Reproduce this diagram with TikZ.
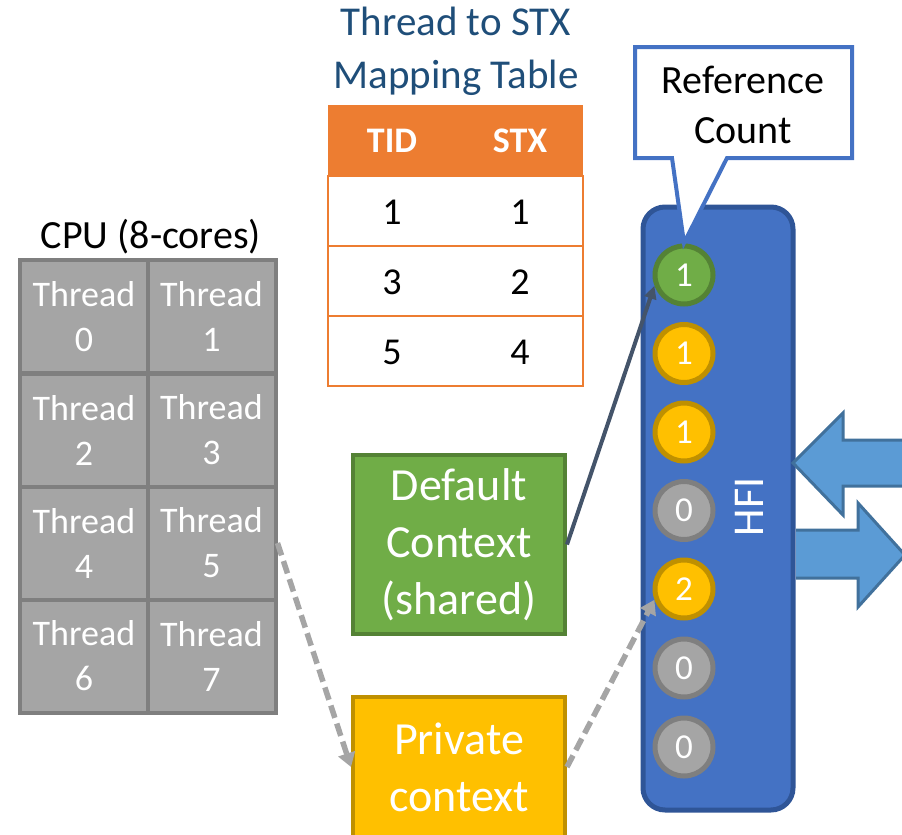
\documentclass[tikz,border=0pt]{standalone}
\usepackage{fontspec}
\setmainfont{Carlito}
\usetikzlibrary{arrows.meta}
\definecolor{cellfill}{HTML}{A5A5A5}
\definecolor{celledge}{HTML}{7F7F7F}
\definecolor{tblorange}{HTML}{ED7D31}
\definecolor{titleblue}{HTML}{1F4E79}
\definecolor{hfifill}{HTML}{4472C4}
\definecolor{hfiedge}{HTML}{2F5597}
\definecolor{grnfill}{HTML}{70AD47}
\definecolor{grnedge}{HTML}{548235}
\definecolor{ylwfill}{HTML}{FFC000}
\definecolor{ylwedge}{HTML}{BF9000}
\definecolor{arrfill}{HTML}{5B9BD5}
\definecolor{arredge}{HTML}{41719C}
\definecolor{slate}{HTML}{44546A}
\tikzset{
  cell/.style={draw=celledge, fill=cellfill, line width=4pt, minimum width=128pt,
    minimum height=113pt, text=white, align=center, inner sep=0pt,
    font=\fontsize{36}{45}\selectfont},
  ctxbox/.style={line width=4pt, minimum width=212pt, text=white, align=center,
    inner sep=0pt, font=\fontsize{46}{57}\selectfont},
  cnt/.style={circle, line width=5pt, minimum size=58pt, inner sep=0pt, text=white,
    font=\fontsize{35}{40}\selectfont},
  cntY/.style={cnt, fill=ylwfill, draw=ylwedge},
  cntG/.style={cnt, fill=cellfill, draw=celledge},
  cntV/.style={cnt, fill=grnfill, draw=grnedge},
  tbltext/.style={font=\fontsize{38}{46}\selectfont},
  dasharrow/.style={draw=cellfill, line width=5.5pt, dash pattern=on 13pt off 6pt,
    -{Triangle[length=14pt,width=17pt]}},
  bigarrow/.style={fill=arrfill, draw=arredge, line width=3pt, line join=miter}
}
\begin{document}
\begin{tikzpicture}[x=1pt,y=-1pt]
\useasboundingbox (0,0) rectangle (902,835);
\begin{scope}
\clip (0,0) rectangle (902,835);

% table title
\node[text=titleblue, align=center, font=\fontsize{41}{53}\selectfont] (ttitle) at (456,51)
  {Thread to STX\\Mapping Table};

% mapping table
\fill[tblorange] (328,105) rectangle (583,176);
\draw[tblorange, line width=2pt] (328,176) rectangle (583,246);
\draw[tblorange, line width=2pt] (328,246) rectangle (583,316);
\draw[tblorange, line width=2pt] (328,316) rectangle (583,386);
\node[text=white, font=\fontsize{36}{44}\selectfont\bfseries] (htid) at (392,141) {TID};
\node[text=white, font=\fontsize{36}{44}\selectfont\bfseries] (hstx) at (520,141) {STX};
\node[tbltext] (r1a) at (392,212) {1};
\node[tbltext] (r1b) at (520,212) {1};
\node[tbltext] (r2a) at (392,282) {3};
\node[tbltext] (r2b) at (520,282) {2};
\node[tbltext] (r3a) at (392,352) {5};
\node[tbltext] (r3b) at (520,352) {4};

% CPU with eight threads
\node[font=\fontsize{40}{48}\selectfont] (cpu) at (151,237) {CPU (8-cores)};
\node[cell] (t0) at (84,316.5) {Thread\\0};
\node[cell] (t1) at (211.5,316.5) {Thread\\1};
\node[cell] (t2) at (84,430) {Thread\\2};
\node[cell] (t3) at (211.5,430) {Thread\\3};
\node[cell] (t4) at (84,543) {Thread\\4};
\node[cell] (t5) at (211.5,543) {Thread\\5};
\node[cell] (t6) at (84,656) {Thread\\6};
\node[cell] (t7) at (211.5,656) {Thread\\7};

% contexts
\node[ctxbox, fill=grnfill, draw=grnedge, minimum height=179pt] (dctx) at (459,544.5)
  {Default\\Context\\(shared)};
\node[ctxbox, fill=ylwfill, draw=ylwedge, minimum height=140pt] (pctx) at (459,767)
  {Private\\context};

% HFI
\draw[fill=hfifill, draw=hfiedge, line width=5pt, rounded corners=22pt]
  (643,207) rectangle (793,810);
\node[text=white, rotate=90, font=\fontsize{44}{50}\selectfont] (hfi) at (749,507) {HFI};
\node[cntV] (c1) at (684,275) {1};
\node[cntY] (c2) at (684,353.5) {1};
\node[cntY] (c3) at (684,432) {1};
\node[cntG] (c4) at (684,510.5) {0};
\node[cntY] (c5) at (684,589) {2};
\node[cntG] (c6) at (684,668) {0};
\node[cntG] (c7) at (684,747) {0};

% callout
\draw[fill=white, draw=hfifill, line width=4pt, line join=miter]
  (635,47) -- (852,47) -- (852,158) -- (727,158) -- (684,243) -- (672,158)
  -- (635,158) -- cycle;
\node[align=center, font=\fontsize{40}{50}\selectfont] (refcount) at (743,105)
  {Reference\\Count};

% in/out arrows
\draw[bigarrow] (793,463) -- (843,413) -- (843,440) -- (915,440) -- (915,486)
  -- (843,486) -- (843,515) -- cycle;
\draw[bigarrow] (796,530) -- (858,530) -- (858,503) -- (905,555) -- (858,607)
  -- (858,578) -- (796,578);

% connectors
\draw[slate, line width=4pt, -{Triangle[length=13pt,width=12pt]}]
  (dctx.east) -- (c1.200);
\draw[dasharrow] (t5.east) -- (pctx.west);
\draw[dasharrow] (pctx.east) -- (c5.200);
\end{scope}
\end{tikzpicture}
\end{document}
